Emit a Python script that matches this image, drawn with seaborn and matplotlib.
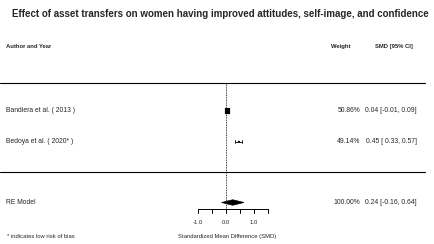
import numpy as np
import pandas as pd
import matplotlib
matplotlib.use("Agg")
import matplotlib.pyplot as plt
import seaborn as sns

# study data
studies = ["Bandiera et al. ( 2013 )", "Bedoya et al. ( 2020* )"]
smd = [0.04, 0.45]
ci_low = [-0.01, 0.33]
ci_high = [0.09, 0.57]
weights = ["50.86%", "49.14%"]
ci_text = ["0.04 [-0.01, 0.09]", "0.45 [ 0.33, 0.57]"]
marker_sizes = [14, 2]

# pooled random-effects estimate
re_label = "RE Model"
re_est = 0.24
re_low = -0.16
re_high = 0.64
re_weight = "100.00%"
re_text = "0.24 [-0.16, 0.64]"

tick_values = [-1.0, -0.5, 0.0, 0.5, 1.0, 1.5]
tick_labels = ["-1.0", "", "0.0", "", "1.0", ""]

rows = [5, 4]
re_row = 2

df = pd.DataFrame({"study": studies, "smd": smd, "row": rows, "size": marker_sizes})

sns.set_style("white")
plt.rcParams['font.family'] = ['Liberation Sans', 'DejaVu Sans']

fig = plt.figure(figsize=(4.34, 2.44), dpi=100)
ax = fig.add_axes([0, 0, 1, 1])
ax.set_xlim(-226 / 28, (434 - 226) / 28)
ax.set_ylim(5 - 133 / 30.5, 5 + 111 / 30.5)
ax.axis("off")

fs = 4.9
fs_small = 4.2

# CIs and squares
for lo, hi, r in zip(ci_low, ci_high, rows):
    ax.plot([lo, hi], [r, r], color="black", lw=0.6)
    ax.plot([lo, lo], [r - 0.04, r + 0.04], color="black", lw=0.6)
    ax.plot([hi, hi], [r - 0.04, r + 0.04], color="black", lw=0.6)
sns.scatterplot(data=df, x="smd", y="row", size="size", sizes=(2, 14), marker="s",
                color="black", edgecolor="black", legend=False, ax=ax, zorder=3)

# diamond
ax.fill([re_low, re_est, re_high, re_est], [re_row, re_row + 0.09, re_row, re_row - 0.09],
        color="black", lw=0.5)

# reference line
ax.plot([0, 0], [5.93, 1.79], color="black", lw=0.6, ls=(0, (1, 1)))

# separators
ax.plot([ax.get_xlim()[0], 7.1], [5.93, 5.93], color="black", lw=0.8)
ax.plot([ax.get_xlim()[0], 7.1], [3.0, 3.0], color="black", lw=0.8)

# x axis
ax.plot([tick_values[0], tick_values[-1]], [1.79, 1.79], color="black", lw=0.7)
for t, lab in zip(tick_values, tick_labels):
    ax.plot([t, t], [1.79, 1.66], color="black", lw=0.7)
    if lab:
        ax.text(t, 1.33, lab, ha="center", va="center", fontsize=fs_small)
ax.text(0.04, 0.87, "Standardized Mean Difference (SMD)", ha="center", va="center", fontsize=fs_small)

# text columns
x_left = -226 / 28 + 6 / 28
x_w = (360 - 226) / 28
x_ci = (417 - 226) / 28
for s, w, c, r in zip(studies, weights, ci_text, rows):
    ax.text(x_left, r, s, ha="left", va="center", fontsize=fs)
    ax.text(x_w, r, w, ha="right", va="center", fontsize=fs)
    ax.text(x_ci, r, c, ha="right", va="center", fontsize=fs)
ax.text(x_left, re_row, re_label, ha="left", va="center", fontsize=fs)
ax.text(x_w, re_row, re_weight, ha="right", va="center", fontsize=fs)
ax.text(x_ci, re_row, re_text, ha="right", va="center", fontsize=fs)

# headers
ax.text(x_left, 7.1, "Author and Year", ha="left", va="center", fontsize=fs_small, fontweight="bold")
ax.text((341 - 226) / 28, 7.1, "Weight", ha="center", va="center", fontsize=fs_small, fontweight="bold")
ax.text((413 - 226) / 28, 7.1, "SMD [95% CI]", ha="right", va="center", fontsize=fs_small, fontweight="bold")

ax.text(-226 / 28 + 7 / 28, 0.87, "* indicates low risk of bias", ha="left", va="center", fontsize=fs_small)

fig.suptitle("Effect of asset transfers on women having improved attitudes, self-image, and confidence",
             x=0.507, y=0.965, fontsize=7.05, fontweight="bold")

fig.savefig("out.png", dpi=100)
